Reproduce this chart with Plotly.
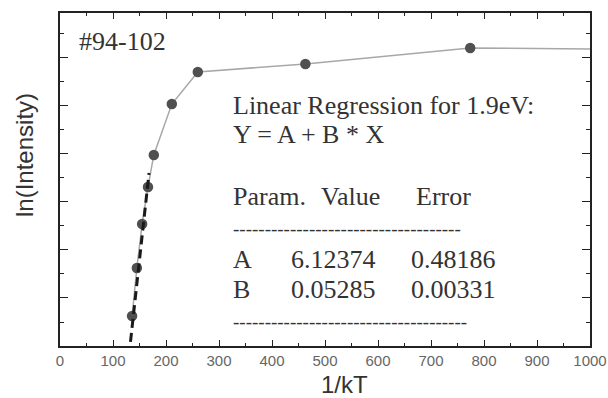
import plotly.graph_objects as go

# ---- data ----
inv_kT = [136, 145, 155, 166, 177, 211, 260, 463, 774, 1200]
ln_intensity = [13.436, 13.962, 14.444, 14.849, 15.200, 15.758, 16.109, 16.197, 16.372, 16.350]

# linear regression parameters shown in the chart
param_A = 6.12374
param_B = 0.05285
err_A = 0.48186
err_B = 0.00331
fit_x = [133, 168]
fit_y = [param_A + param_B * x for x in fit_x]

x_ticks = list(range(0, 1001, 100))

# ---- layout geometry (pixels) ----
W, H = 608, 398
L, R, T, B = 60, 18, 13, 52
PW, PH = W - L - R, H - T - B


def px(xp):
    return (xp - L) / PW


def py(yp):
    return (H - B - yp) / PH


fig = go.Figure()
fig.add_trace(go.Scatter(
    x=inv_kT, y=ln_intensity, mode="lines+markers",
    line=dict(color="#a8a8a8", width=1.5),
    marker=dict(color="#505050", size=10.5, line=dict(width=0)),
    showlegend=False,
))
fig.add_trace(go.Scatter(
    x=fit_x, y=fit_y, mode="lines",
    line=dict(color="#1a1a1a", width=3, dash="9px,5px"),
    showlegend=False,
))

serif = "Liberation Serif"
txt_col = "#333333"
ann = []


def add_text(text, xpix, ypix, size=26, family=serif, color=txt_col, xanchor="left", angle=0):
    ann.append(dict(text=text, x=px(xpix), y=py(ypix), xref="paper", yref="paper",
                    xanchor=xanchor, yanchor="middle", showarrow=False, textangle=angle,
                    font=dict(family=family, size=size, color=color)))


add_text("#94-102", 77, 41.3)
add_text("Linear Regression for 1.9eV:", 231, 105.3)
add_text("Y = A + B * X", 231, 134.3)
add_text("Param.", 231, 196.3)
add_text("Value", 319, 196.3)
add_text("Error", 414, 196.3)
add_text("-" * 36, 231, 228, size=19)
add_text("A", 231, 259.3)
add_text(f"{param_A:.5f}", 289, 259.3)
add_text(f"{err_A:.5f}", 409, 259.3)
add_text("B", 231, 289.3)
add_text(f"{param_B:.5f}", 289, 289.3)
add_text(f"{err_B:.5f}", 409, 289.3)
add_text("-" * 37, 231, 321, size=19)
add_text("ln(Intensity)", 24, 155, size=24, family="Liberation Sans", xanchor="center", angle=-90)
add_text("1/kT", 344, 384.5, size=24, family="Liberation Sans", xanchor="center")

axis_common = dict(showline=True, linecolor="#222222", linewidth=1.5, mirror="ticks",
                   ticks="inside", tickcolor="#222222", showgrid=False, zeroline=False,
                   automargin=False)

fig.update_layout(
    width=W, height=H,
    margin=dict(l=L, r=R, t=T, b=B),
    paper_bgcolor="white", plot_bgcolor="white",
    annotations=ann,
    xaxis=dict(range=[0, 1000], tickvals=x_ticks, ticklen=6, tickwidth=1.2,
               minor=dict(dtick=50, tick0=0, ticklen=3, ticks="inside", tickcolor="#222222", tickwidth=1.2),
               tickfont=dict(family="Liberation Sans", size=15, color="#666666"),
               **axis_common),
    yaxis=dict(range=[13.107, 16.755], tick0=13.107, dtick=0.5259, ticklen=8, tickwidth=1.2,
               minor=dict(dtick=0.26295, tick0=13.107, ticklen=4, ticks="inside", tickcolor="#222222", tickwidth=1.2),
               showticklabels=False, **axis_common),
)

fig.write_html("out.html")
